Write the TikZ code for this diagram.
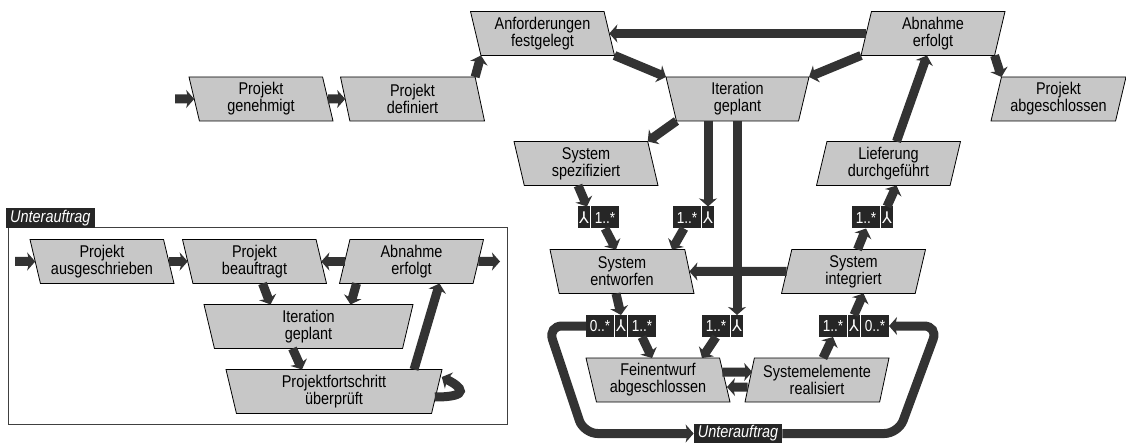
\documentclass[tikz,border=0pt]{standalone}
\usepackage{fontspec}
\setmainfont{Liberation Sans}[FakeStretch=0.85]
\newfontfamily\symfont{DejaVu Sans}
\usetikzlibrary{shapes.geometric, arrows.meta}

\begin{document}
\begin{tikzpicture}[x=1pt, y=-1pt,
        event/.style={trapezium, trapezium stretches body, draw=black, line width=0.8pt, fill=black!22,
            minimum width=144pt, minimum height=44pt, inner sep=0pt, outer sep=0pt, align=center,
            font=\fontsize{17}{17}\selectfont},
        lean/.style={event, trapezium left angle=107.65, trapezium right angle=72.35},
        rise/.style={event, trapezium left angle=72.35, trapezium right angle=107.65},
        wide/.style={event, trapezium left angle=107.65, trapezium right angle=107.65},
        mult/.style={fill=black!85, text=white, minimum width=28pt, minimum height=22pt, inner sep=0pt,
            outer sep=0pt, anchor=west, font=\fontsize{16}{16}\selectfont},
        fork/.style={mult, minimum width=12pt, font=\symfont\fontsize{16}{16}\selectfont},
        tag/.style={fill=black!85, text=white, minimum height=20pt, inner xsep=4pt, inner ysep=0pt,
            font=\fontsize{17}{17}\selectfont\itshape},
        flow/.style={line width=9pt, draw=black!80, -{Stealth[length=8pt, width=18pt, inset=2pt]}}]
        \useasboundingbox (0,0) rectangle (1126,443);
        %
        \node[lean] (gen) at (261,99) {Projekt\\genehmigt};
        \node[lean] (def) at (412.5,99) {Projekt\\definiert};
        \node[lean] (anf) at (542.5,33.5) {Anforderungen\\festgelegt};
        \node[rise] (abn) at (933,33.5) {Abnahme\\erfolgt};
        \node[wide, minimum width=143pt] (itg) at (737.5,99) {Iteration\\geplant};
        \node[rise, minimum width=135pt] (abg) at (1058.5,99) {Projekt\\abgeschlossen};
        \node[lean] (spz) at (586,163.5) {System\\spezifiziert};
        \node[rise] (lie) at (888.5,163.5) {Lieferung\\durchgeführt};
        \node[lean] (ent) at (622,271.5) {System\\entworfen};
        \node[rise] (int) at (853.5,271.5) {System\\integriert};
        \node[lean] (fein) at (658,380) {Feinentwurf\\abgeschlossen};
        \node[rise] (sys) at (817,380) {Systemelemente\\realisiert};
        \coordinate (in) at (175,99);
        %
        \node[fork] (m1a) at (578,217.5) {⅄};
        \node[mult] (m1b) at ([xshift=1pt]m1a.east) {1..*};
        \node[mult] (m2a) at (673,217.5) {1..*};
        \node[fork] (m2b) at ([xshift=1pt]m2a.east) {⅄};
        \node[mult] (m3a) at (852,217.5) {1..*};
        \node[fork] (m3b) at ([xshift=1pt]m3a.east) {⅄};
        \node[mult] (m4a) at (586,326) {0..*};
        \node[fork] (m4b) at ([xshift=1pt]m4a.east) {⅄};
        \node[mult] (m4c) at ([xshift=1pt]m4b.east) {1..*};
        \node[mult] (m5a) at (702,326) {1..*};
        \node[fork] (m5b) at ([xshift=1pt]m5a.east) {⅄};
        \node[mult] (m6a) at (819,326) {1..*};
        \node[fork] (m6b) at ([xshift=1pt]m6a.east) {⅄};
        \node[mult] (m6c) at ([xshift=1pt]m6b.east) {0..*};
        \node[tag] (ua) at (738,433.5) {Unterauftrag};
        %
        \draw[flow] (in) -- (gen.west);
        \draw[flow] (gen.east) -- (def.west);
        \draw[flow] (def.top right corner) -- (anf.bottom left corner);
        \draw[flow] (anf.bottom right corner) -- (itg.top left corner);
        \draw[flow] (abn.west) -- (anf.east);
        \draw[flow] (abn.bottom left corner) -- (itg.top right corner);
        \draw[flow] (abn.bottom right corner) -- (abg.top left corner);
        \draw[flow] (itg.bottom left corner) -- (spz.top right corner);
        \draw[flow] (m2b.north |- itg.south) -- (m2b.north);
        \draw[flow] (m5b.north |- itg.south) -- (m5b.north);
        \draw[flow] ([xshift=-8pt]spz.south) -- ([xshift=3pt]m1a.north);
        \draw[flow] (m1b.south) -- ([xshift=-6pt]ent.north);
        \draw[flow] ([xshift=-3pt]m2a.south) -- ([xshift=50pt]ent.north);
        \draw[flow] (int.west) -- (ent.east);
        \draw[flow] ([xshift=4pt]int.north) -- (m3a.south);
        \draw[flow] (m3b.north) -- ([xshift=8pt]lie.south);
        \draw[flow] ([xshift=8pt]lie.north) -- ([xshift=-6pt]abn.south);
        \draw[flow] ([xshift=-6pt]ent.south) -- (m4b.north);
        \draw[flow] (m4c.south) -- ([xshift=-6pt]fein.north);
        \draw[flow] (m5a.south) -- ([xshift=44pt]fein.north);
        \draw[flow] ([xshift=-2.5pt, yshift=8pt]fein.east) -- ([xshift=2.5pt, yshift=8pt]sys.west);
        \draw[flow] ([xshift=-2.2pt, yshift=-7pt]sys.west) -- ([xshift=2.2pt, yshift=-7pt]fein.east);
        \draw[flow] ([xshift=6pt]sys.north) -- (m6a.south);
        \draw[flow] (m6b.north) -- ([xshift=10pt]int.south);
        \draw[flow, rounded corners=14pt] (m4a.west) -- ++(-38,0) -- ([xshift=-110pt]ua.west) -- (ua.west);
        \draw[flow, rounded corners=14pt] (ua.east) -- ++(116,0) -- ([xshift=49pt]m6c.east) -- (m6c.east);
        %
        \draw[line width=1pt, draw=black!75] (8,228) rectangle (507,424);
        \node[tag, anchor=south west] (ut) at (6,228) {Unterauftrag};
        \node[lean] (pa) at (102,261.5) {Projekt\\ausgeschrieben};
        \node[lean] (pb) at (254.5,261.5) {Projekt\\beauftragt};
        \node[rise] (pab) at (411.5,261.5) {Abnahme\\erfolgt};
        \node[wide, minimum width=209pt] (pit) at (308.5,326.5) {Iteration\\geplant};
        \node[wide, minimum width=216pt] (pfs) at (334,391.5) {Projektfortschritt\\überprüft};
        \coordinate (pin) at (15,261.5);
        \coordinate (pout) at (500,261.5);
        %
        \draw[flow] (pin) -- (pa.west);
        \draw[flow] (pa.east) -- (pb.west);
        \draw[flow] (pab.west) -- (pb.east);
        \draw[flow] (pab.east) -- (pout);
        \draw[flow] ([xshift=8pt]pb.south) -- ([xshift=-38pt]pit.north);
        \draw[flow] ([xshift=-55pt]pab.south) -- ([xshift=42pt]pit.north);
        \draw[flow] ([xshift=-16pt]pit.south) -- ([xshift=-32pt]pfs.north);
        \draw[flow] ([xshift=80pt]pfs.north) -- ([xshift=28pt]pab.south);
        \draw[flow] ([xshift=-2pt, yshift=-5.5pt]pfs.east) .. controls +(37,0) and +(20,10) .. ([xshift=5pt, yshift=14.5pt]pfs.east);
    \end{tikzpicture}
\end{document}
